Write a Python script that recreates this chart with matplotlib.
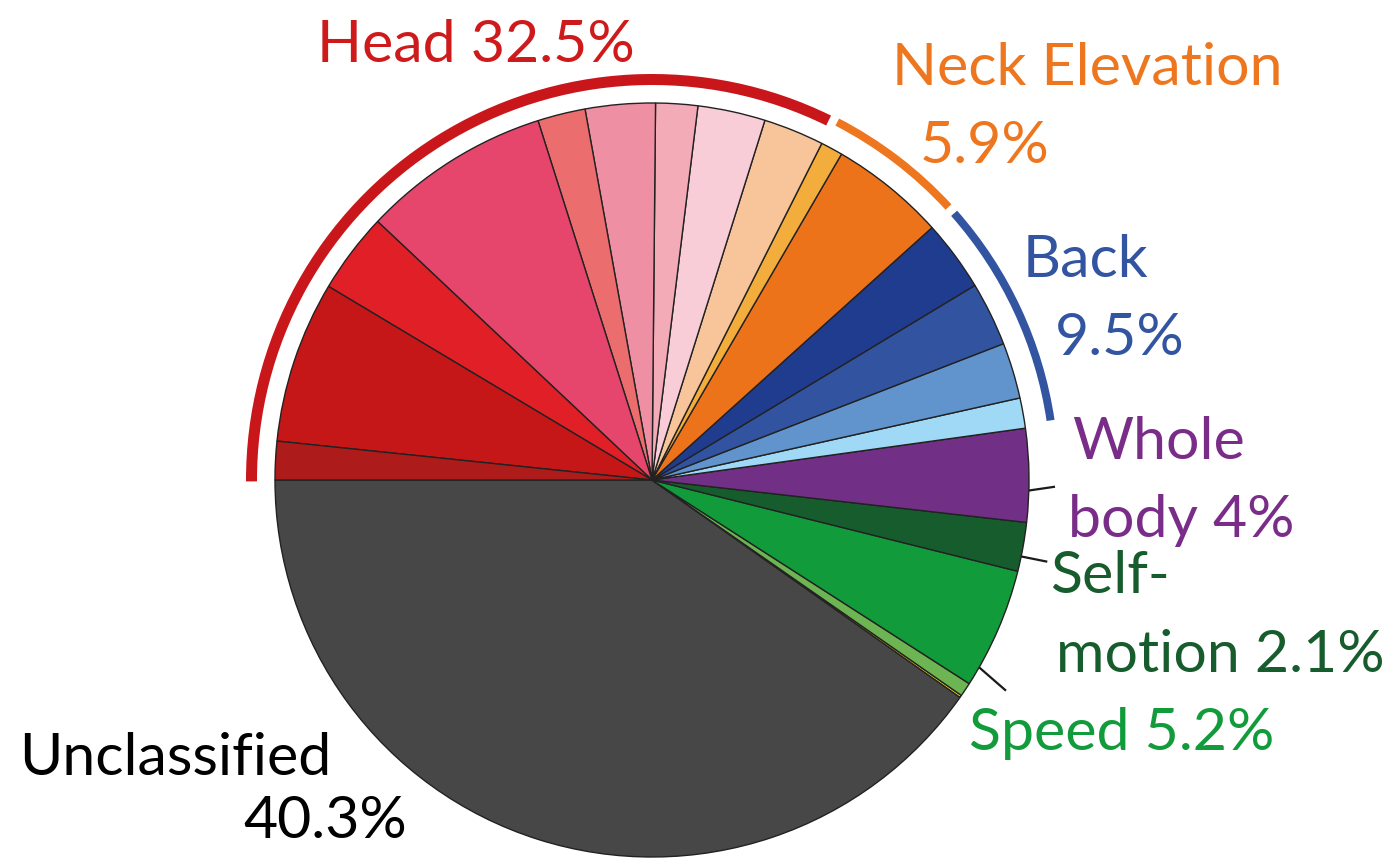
#!/usr/bin/env python3

import numpy as np
import matplotlib
matplotlib.use("Agg")
import matplotlib.pyplot as plt
from matplotlib.patches import Wedge


# Percent of time per behaviour, slices run counterclockwise from 9 o'clock
unclassified = [40.3]
speed = [0.1, 0.6, 5.2]
self_motion = [2.1]
whole_body = [4.0]
back = [1.3, 2.4, 2.75, 3.05]
neck = [4.95, 0.95]
head = [2.6, 2.9, 1.8, 3.0, 2.05, 8.1, 3.45, 6.95, 1.65]

unclassified_colors = ["#474747"]
speed_colors = ["#f2e21a", "#6db552", "#119b3b"]
self_motion_colors = ["#175c2c"]
whole_body_colors = ["#722f86"]
back_colors = ["#9fd9f6", "#6193cc", "#3253a0", "#203c8f"]
neck_colors = ["#ed731b", "#f2ad3d"]
head_colors = ["#f8c499", "#f8cdd8", "#f3abb8", "#ef8fa4", "#eb6d6e",
               "#e7466c", "#e11f26", "#c51618", "#ad1c1a"]

FONT = "Lato"
FS = 42.5


def main():
    groups = [unclassified, speed, self_motion, whole_body, back, neck, head]
    group_colors = [unclassified_colors, speed_colors, self_motion_colors,
                    whole_body_colors, back_colors, neck_colors, head_colors]
    values = [v for g in groups for v in g]
    colors = [c for g in group_colors for c in g]

    fig = plt.figure(figsize=(13.94, 8.62), dpi=100)
    ax = fig.add_axes([0, 0, 1, 1])

    # pixel-like data space, y pointing up
    W, H = 1394, 862
    cx, cy, R = 652, H - 481, 377

    ax.pie(values, colors=colors, startangle=180, counterclock=True,
           center=(cx, cy), radius=R,
           wedgeprops=dict(edgecolor="#222222", linewidth=1.0))
    ax.set_xlim(0, W)
    ax.set_ylim(0, H)
    ax.set_aspect("equal")
    ax.axis("off")

    # start/end angle of each group
    total = sum(values)
    bounds = []
    cum = 0.0
    for g in groups:
        a0 = 180 + cum / total * 360
        cum += sum(g)
        a1 = 180 + cum / total * 360
        bounds.append((a0, a1))

    # outer arcs marking the head, neck and back groups
    arcs = [(6, "#c8161b", 395, 11, 0.6, -0.2),
            (5, "#ee761e", 399, 8, 0.6, 0.6),
            (4, "#3254a1", 399, 8, 0.6, 0.6)]
    for gi, col, r_in, width, pad0, pad1 in arcs:
        a0, a1 = bounds[gi]
        ax.add_patch(Wedge((cx, cy), r_in + width, a0 + pad0, a1 - pad1,
                           width=width, facecolor=col, edgecolor="none"))

    # leader lines for the small slices on the right
    leaders = [(-1.6, (1055, 487.7)),
               (-11.7, (1047.3, 562.7)),
               (-29.8, (1006, 691.7))]
    for ang, (ex, ey) in leaders:
        t = np.radians(ang)
        ax.plot([cx + R * np.cos(t), ex], [cy + R * np.sin(t), H - ey],
                color="#1a1a1a", lw=1.6, solid_capstyle="butt")

    labels = [
        ("Head 32.5%", 475.9, 61.7, "#cf1a1c"),
        ("Neck Elevation", 1087.4, 85, "#ee761e"),
        ("5.9%", 985, 163.3, "#ee761e"),
        ("Back", 1085.8, 276.7, "#3254a1"),
        ("9.5%", 1120, 355, "#3254a1"),
        ("Whole", 1158, 459.3, "#7a2d88"),
        ("body 4%", 1180.8, 536.7, "#7a2d88"),
        ("Self-", 1109.5, 593.3, "#175c2c"),
        ("motion 2.1%", 1220, 671.7, "#175c2c"),
        ("Speed 5.2%", 1121.7, 750, "#119b3b"),
        ("Unclassified", 175.7, 775, "#000000"),
        ("40.3%", 324.8, 838.3, "#000000"),
    ]
    for text, x, y, col in labels:
        ax.text(x, H - y, text, color=col, fontsize=FS, family=FONT,
                ha="center", va="baseline")

    fig.savefig("out.png", dpi=100, facecolor="white")


if __name__ == "__main__":
    main()
